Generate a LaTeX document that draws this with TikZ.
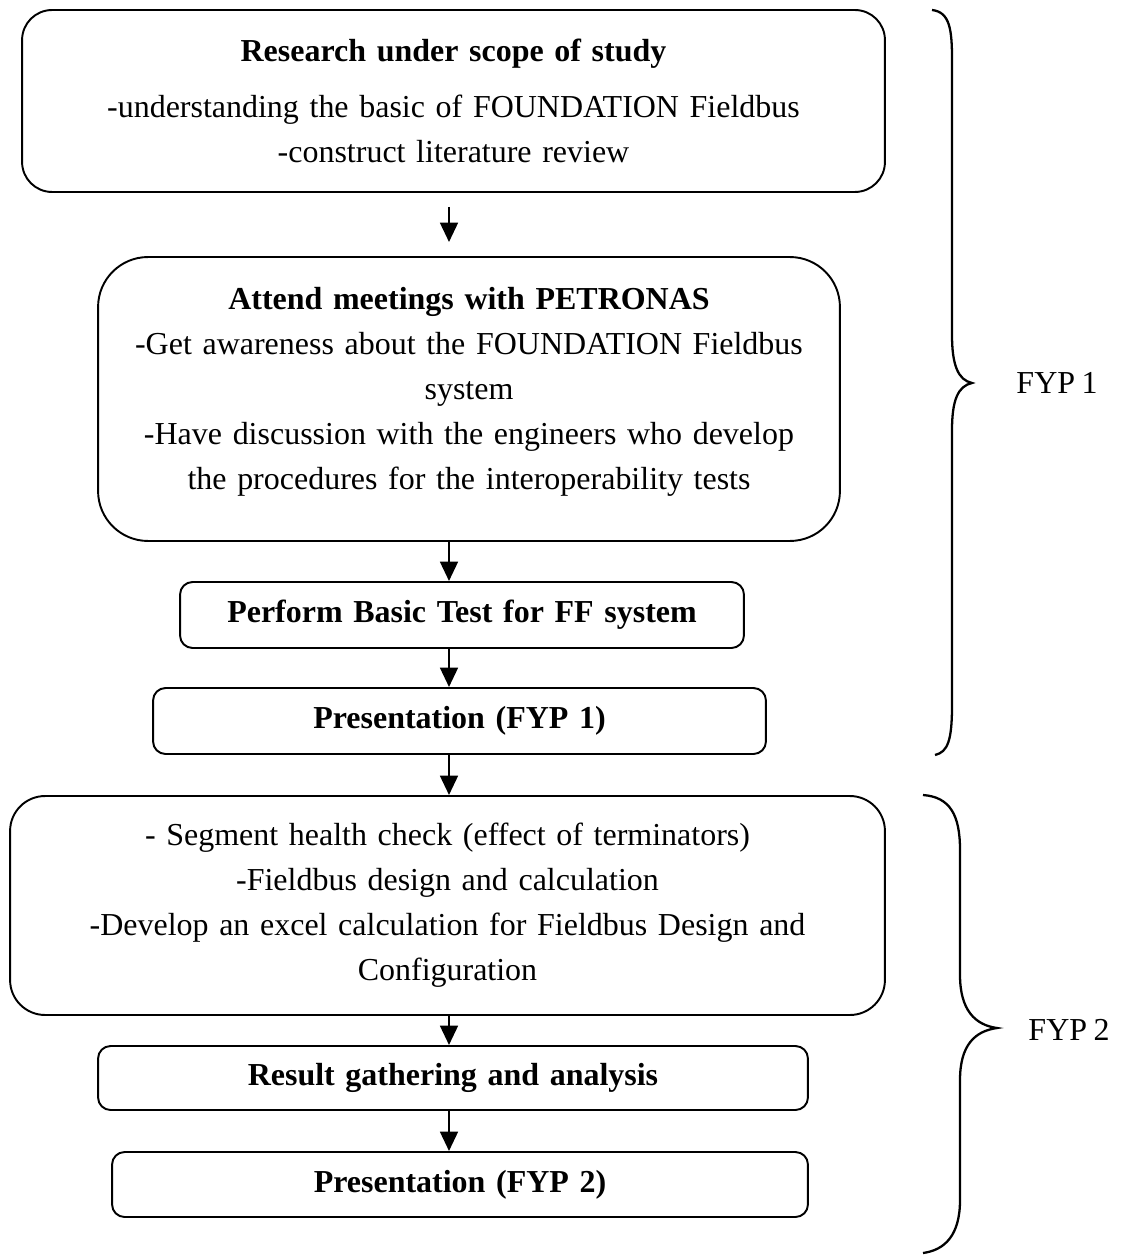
\documentclass[tikz,border=0pt]{standalone}
\usepackage{fontspec}
\setmainfont{Liberation Serif}[WordSpace=0.8]
\usetikzlibrary{arrows.meta}
\begin{document}
\begin{tikzpicture}[x=0.02cm, y=-0.02cm,
  stage/.style={draw, line width=1.1pt, inner sep=0pt, align=center,
    font=\fontsize{18.2}{25.6}\selectfont},
  flow/.style={line width=1.6pt, -{Triangle[length=11pt, width=10pt]}},
  brace/.style={line width=1.3pt},
  tag/.style={font=\fontsize{18.2}{20}\selectfont}]
  \useasboundingbox (0,0) rectangle (1125,1256);
  \coordinate (ax) at (449,0);
  % FYP 1 boxes
  \node[stage, rounded corners=0.6cm, text width=17.26cm, minimum height=3.64cm] (research) at (453.5,101)
    {\textbf{Research under scope of study}\\[6pt]
     -understanding the basic of FOUNDATION Fieldbus\\
     -construct literature review};
  \node[stage, rounded corners=1cm, text width=14.84cm, minimum height=5.68cm] (meet) at (469,399)
    {\textbf{Attend meetings with PETRONAS}\\
     -Get awareness about the FOUNDATION Fieldbus\\
     system\\
     -Have discussion with the engineers who develop\\
     the procedures for the interoperability tests\rule[-12pt]{0pt}{1pt}};
  \node[stage, rounded corners=0.25cm, text width=11.28cm, minimum height=1.32cm] (basic) at (462,615)
    {\textbf{Perform Basic Test for FF system}};
  \node[stage, rounded corners=0.25cm, text width=12.26cm, minimum height=1.32cm] (pres1) at (459.5,721)
    {\textbf{Presentation (FYP 1)}};
  % FYP 2 boxes
  \node[stage, rounded corners=0.7cm, text width=17.5cm, minimum height=4.38cm] (segment) at (447.5,905.5)
    {- Segment health check (effect of terminators)\\
     -Fieldbus design and calculation\\
     -Develop an excel calculation for Fieldbus Design and\\
     Configuration};
  \node[stage, rounded corners=0.25cm, text width=14.2cm, minimum height=1.28cm] (result) at (453,1078)
    {\textbf{Result gathering and analysis}};
  \node[stage, rounded corners=0.25cm, text width=13.92cm, minimum height=1.3cm] (pres2) at (460,1184.5)
    {\textbf{Presentation (FYP 2)}};
  % arrows
  \draw[flow, shorten <=0.28cm, shorten >=0.28cm] (research.south -| ax) -- (meet.north -| ax);
  \draw[flow] (meet.south -| ax) -- (basic.north -| ax);
  \draw[flow] (basic.south -| ax) -- (pres1.north -| ax);
  \draw[flow] (pres1.south -| ax) -- (segment.north -| ax);
  \draw[flow] (segment.south -| ax) -- (result.north -| ax);
  \draw[flow] (result.south -| ax) -- (pres2.north -| ax);
  % braces
  \draw[brace] (932,10) .. controls (950,12) and (952,30) .. (952,60) -- (952,335)
    .. controls (952,365) and (958,380) .. (972,383)
    .. controls (958,386) and (952,400) .. (952,430) -- (952,705)
    .. controls (952,740) and (948,752) .. (935,755);
  \draw[brace] (923,795) .. controls (950,797) and (960,815) .. (960,850) -- (960,975)
    .. controls (960,1010) and (975,1025) .. (997,1028)
    .. controls (975,1031) and (960,1045) .. (960,1080) -- (960,1200)
    .. controls (960,1235) and (945,1250) .. (923,1253);
  \node[tag] (fyp1) at (1057,383) {FYP 1};
  \node[tag] (fyp2) at (1069,1030) {FYP 2};
\end{tikzpicture}
\end{document}
